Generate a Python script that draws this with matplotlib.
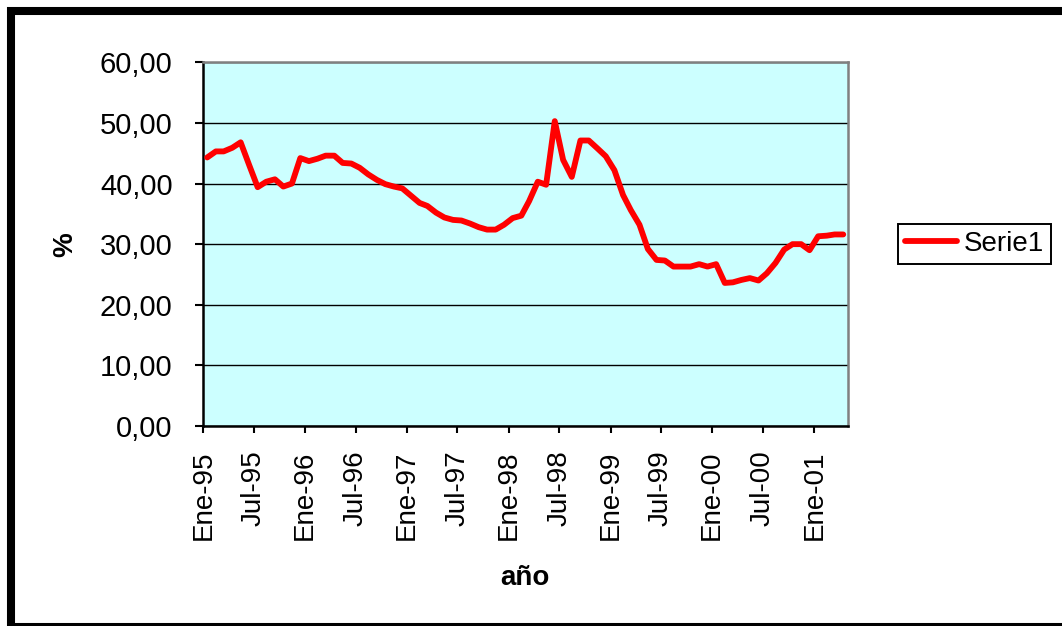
import pandas as pd
import matplotlib
matplotlib.use('Agg')
import matplotlib.pyplot as plt
from matplotlib.patches import Rectangle
from matplotlib.ticker import FuncFormatter

plt.rcParams['font.family'] = ['Liberation Sans', 'DejaVu Sans']

# serie mensual, Ene-95 a Abr-01 (fechas a mitad de mes, eje de fechas)
fechas = pd.date_range('1995-01-01', periods=76, freq='MS') + pd.Timedelta(days=14)
serie1 = [44.3, 45.3, 45.3, 45.9, 46.8, 43.0, 39.4, 40.3, 40.7, 39.5,
          40.0, 44.2, 43.7, 44.1, 44.6, 44.6, 43.4, 43.3, 42.6, 41.5,
          40.6, 39.9, 39.5, 39.2, 38.0, 36.8, 36.3, 35.2, 34.4, 34.0,
          33.9, 33.4, 32.8, 32.4, 32.4, 33.2, 34.3, 34.7, 37.1, 40.3,
          39.8, 50.3, 43.9, 41.1, 47.1, 47.1, 45.8, 44.5, 42.2, 38.1,
          35.6, 33.2, 29.2, 27.4, 27.3, 26.3, 26.3, 26.3, 26.7, 26.3,
          26.7, 23.6, 23.7, 24.1, 24.4, 24.0, 25.2, 26.9, 29.1, 30.0,
          30.0, 29.0, 31.3, 31.4, 31.6, 31.6]

ticks_x = pd.date_range('1995-01-01', '2001-01-01', freq='6MS')
etiquetas_x = ['Ene-95', 'Jul-95', 'Ene-96', 'Jul-96', 'Ene-97', 'Jul-97',
               'Ene-98', 'Jul-98', 'Ene-99', 'Jul-99', 'Ene-00', 'Jul-00',
               'Ene-01']
ticks_y = [0, 10, 20, 30, 40, 50, 60]

W, H = 1062, 626
fig = plt.figure(figsize=(W / 100, H / 100), dpi=100)
fig.patch.set_facecolor('white')

x0, x1, y0, y1 = 203.3, 847.7, 62.3, 426.0
ax = fig.add_axes([x0 / W, 1 - y1 / H, (x1 - x0) / W, (y1 - y0) / H])
ax.set_facecolor('#CCFFFF')

ax.plot(fechas, serie1, color='#FF0000', linewidth=4.2,
        solid_joinstyle='round', solid_capstyle='round', label='Serie1',
        zorder=3)

ax.set_xlim(pd.Timestamp('1995-01-01'), pd.Timestamp('2001-05-01'))
ax.set_ylim(0, 60)
ax.set_yticks(ticks_y)
ax.yaxis.set_major_formatter(FuncFormatter(lambda v, p: f'{v:.2f}'.replace('.', ',')))
ax.set_xticks(ticks_x)
ax.set_xticklabels(etiquetas_x, rotation=90)

ax.tick_params(axis='y', direction='out', length=6, width=1.5, pad=16,
               labelsize=21, colors='black')
ax.tick_params(axis='x', direction='out', length=5, width=1.5, pad=12.5,
               labelsize=20, colors='black')

ax.yaxis.grid(True, color='black', linewidth=1.0)
ax.set_axisbelow(True)

ax.spines['left'].set_color('black')
ax.spines['left'].set_linewidth(1.8)
ax.spines['bottom'].set_color('black')
ax.spines['bottom'].set_linewidth(1.8)
for s in ['top', 'right']:
    ax.spines[s].set_color('#808080')
    ax.spines[s].set_linewidth(1.8)

ax.set_xlabel('año', fontsize=20, fontweight='bold', va='center')
ax.xaxis.set_label_coords((525 - x0) / (x1 - x0), (y1 - 578) / (y1 - y0))
ax.set_ylabel('%', fontsize=20, fontweight='bold', va='center')
ax.yaxis.set_label_coords((65 - x0) / (x1 - x0), (y1 - 245) / (y1 - y0))

leg = ax.legend(loc='center', bbox_to_anchor=(974.5 / W, 1 - 244 / H),
                bbox_transform=fig.transFigure, fontsize=20, frameon=True,
                fancybox=False, shadow=False, framealpha=1,
                handlelength=1.9, handletextpad=0.25, borderpad=0.25,
                borderaxespad=0)
leg.get_frame().set_edgecolor('black')
leg.get_frame().set_linewidth(1.4)

# marco exterior grueso del gráfico
marco = Rectangle((11 / W, 1 - 627 / H), (1070 - 11) / W, (627 - 11) / H,
                  transform=fig.transFigure, fill=False, edgecolor='black',
                  linewidth=5.8, clip_on=False)
fig.patches.append(marco)

plt.savefig('out.png', dpi=100)
